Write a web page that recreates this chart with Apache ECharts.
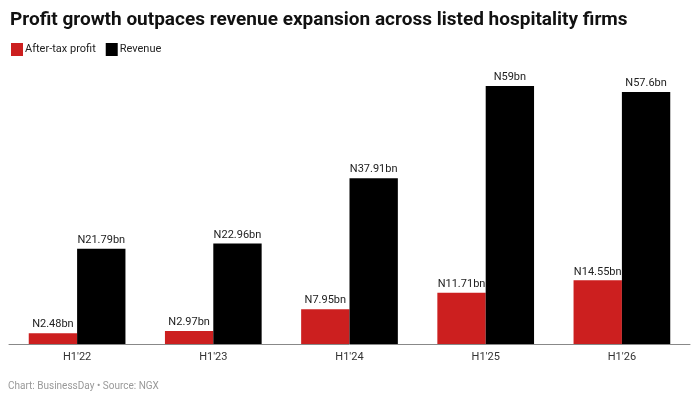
<!DOCTYPE html>
<html>
<head>
<meta charset="utf-8">
<script src="https://cdn.jsdelivr.net/npm/echarts@6/dist/echarts.min.js"></script>
<style>
  html, body { margin: 0; padding: 0; background: #fff; }
  #chart { width: 700px; height: 400px; }
</style>
</head>
<body>
<div id="chart"></div>
<script>
const periods = ["H1'22", "H1'23", "H1'24", "H1'25", "H1'26"];
const profit = [2.48, 2.97, 7.95, 11.71, 14.55];
const revenue = [21.79, 22.96, 37.91, 59, 57.6];

const font = 'Roboto, "Noto Sans", sans-serif';
const fmt = p => 'N' + p.value + 'bn';

const myChart = echarts.init(document.getElementById('chart'));
myChart.setOption({
    animation: false,
    textStyle: { fontFamily: font },
    title: {
        text: 'Profit growth outpaces revenue expansion across listed hospitality firms',
        left: 5, top: 6,
        textStyle: { fontSize: 19, fontWeight: 'bold', color: '#111', fontFamily: font }
    },
    legend: {
        left: 6, top: 38,
        itemWidth: 12, itemHeight: 13, itemGap: 10,
        icon: 'rect',
        textStyle: { fontSize: 11, color: '#222', padding: [0, 0, 0, -3] },
        data: ['After-tax profit', 'Revenue']
    },
    graphic: [{
        type: 'text', left: 8, top: 381,
        style: { text: 'Chart: BusinessDay \u2022 Source: NGX', fontSize: 10, fill: '#999', fontFamily: font }
    }],
    grid: { left: 9, right: 10, top: 86, bottom: 56 },
    xAxis: {
        type: 'category',
        data: periods,
        axisTick: { show: false },
        axisLine: { lineStyle: { color: '#888', width: 1 } },
        axisLabel: { fontSize: 11, color: '#333', margin: 8 }
    },
    yAxis: {
        type: 'value',
        min: 0, max: 59,
        show: false,
        splitLine: { show: false }
    },
    series: [
        {
            name: 'After-tax profit', type: 'bar', data: profit,
            barGap: 0, barCategoryGap: '29%',
            itemStyle: { color: '#cc1f1f' },
            label: { show: true, position: 'top', fontSize: 11, color: '#222', formatter: fmt, distance: 3 }
        },
        {
            name: 'Revenue', type: 'bar', data: revenue,
            barGap: 0, barCategoryGap: '29%',
            itemStyle: { color: '#000' },
            label: { show: true, position: 'top', fontSize: 11, color: '#222', formatter: fmt, distance: 3 }
        }
    ]
});
</script>
</body>
</html>
